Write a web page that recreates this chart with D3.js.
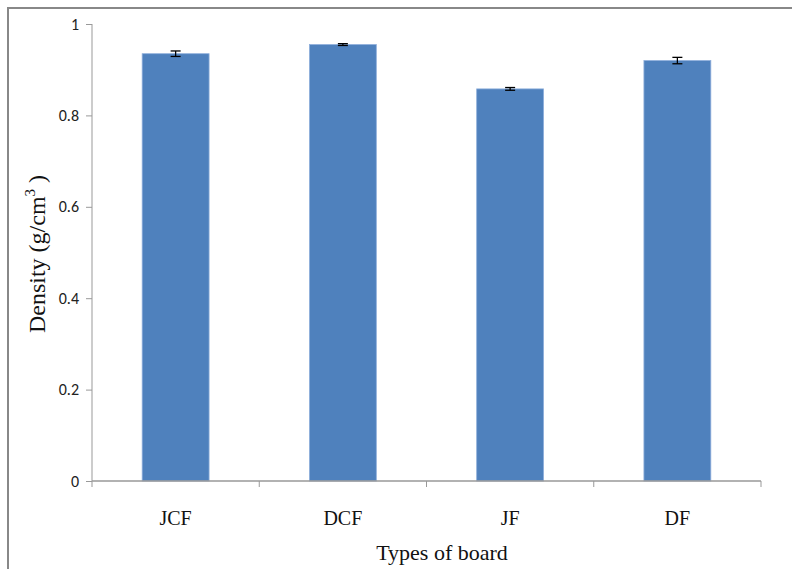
<!DOCTYPE html>
<html><head><meta charset="utf-8">
<script src="https://cdn.jsdelivr.net/npm/d3@7"></script>
<style>body{margin:0;background:#fff}svg{display:block}</style>
</head><body><div id="c"></div>
<script>
const categories = ["JCF","DCF","JF","DF"];
const values = [0.935, 0.955, 0.858, 0.920];
const errors = [0.006, 0.002, 0.003, 0.007];
const yTicks = [0, 0.2, 0.4, 0.6, 0.8, 1];
const yTickLabels = ["0","0.2","0.4","0.6","0.8","1"];

const W = 792, H = 569;
const svg = d3.select("#c").append("svg").attr("width", W).attr("height", H);
// outer border
svg.append("rect").attr("x",8).attr("y",8).attr("width",W+10).attr("height",H+10)
  .attr("fill","none").attr("stroke","#888").attr("stroke-width",2);

const x0 = 92, x1 = 761, yTop = 24, yBot = 481;
const x = d3.scaleBand().domain(categories).range([x0,x1]).paddingInner(0.6).paddingOuter(0.3);
const xb = d3.scaleBand().domain(categories).range([x0,x1]);
const y = d3.scaleLinear().domain([0,1]).range([yBot,yTop]);

// bars
svg.selectAll(".bar").data(categories).enter().append("rect")
  .attr("x", d=>x(d)).attr("width", x.bandwidth())
  .attr("y", (d,i)=>y(values[i])).attr("height",(d,i)=>y(0)-y(values[i]))
  .attr("fill","#4f81bd").attr("stroke","#8eaedb").attr("stroke-width",0.8);

// error bars
const eg = svg.append("g").attr("stroke","#000").attr("stroke-width",1.3);
categories.forEach((c,i)=>{
  const cx = x(c)+x.bandwidth()/2;
  const t = y(values[i]+errors[i]), b = y(values[i]-errors[i]);
  eg.append("line").attr("x1",cx).attr("x2",cx).attr("y1",t).attr("y2",b);
  eg.append("line").attr("x1",cx-5).attr("x2",cx+5).attr("y1",t).attr("y2",t);
  eg.append("line").attr("x1",cx-5).attr("x2",cx+5).attr("y1",b).attr("y2",b);
});

// y axis
const ya = svg.append("g").attr("transform",`translate(${x0},0)`)
  .call(d3.axisLeft(y).tickValues(yTicks).tickFormat((d,i)=>yTickLabels[i]).tickSize(6).tickPadding(7));
ya.selectAll("text").attr("font-family","Carlito, 'Liberation Sans', sans-serif").attr("font-size",16).attr("fill","#222");
ya.selectAll("line,path").attr("stroke","#999");
ya.select("path").attr("d",`M-0,${yTop}V${yBot}`);

// x axis
const xa = svg.append("g").attr("transform",`translate(0,${yBot})`);
xa.append("line").attr("x1",x0).attr("x2",x1).attr("y1",0).attr("y2",0).attr("stroke","#999").attr("stroke-width",1.5);
const bounds = categories.map(c=>xb(c)).concat([x1]);
xa.selectAll(".tk").data(bounds).enter().append("line")
  .attr("x1",d=>d).attr("x2",d=>d).attr("y1",0).attr("y2",6).attr("stroke","#999");
xa.selectAll(".lb").data(categories).enter().append("text")
  .attr("x",d=>xb(d)+xb.bandwidth()/2).attr("y",44).attr("text-anchor","middle")
  .attr("font-family","'Liberation Serif', 'Times New Roman', serif").attr("font-size",20).attr("fill","#111")
  .text(d=>d);

// axis titles
svg.append("text").attr("x",442).attr("y",560).attr("text-anchor","middle")
  .attr("font-family","'Liberation Serif', serif").attr("font-size",22).attr("fill","#111")
  .text("Types of board");
const yl = svg.append("text").attr("transform","translate(45,254) rotate(-90)").attr("text-anchor","middle")
  .attr("font-family","'Liberation Serif', serif").attr("font-size",24).attr("fill","#111");
yl.append("tspan").text("Density (g/cm");
yl.append("tspan").attr("dy",-10).attr("font-size",15).text("3");
yl.append("tspan").attr("dy",10).text(" )");
</script></body></html>
